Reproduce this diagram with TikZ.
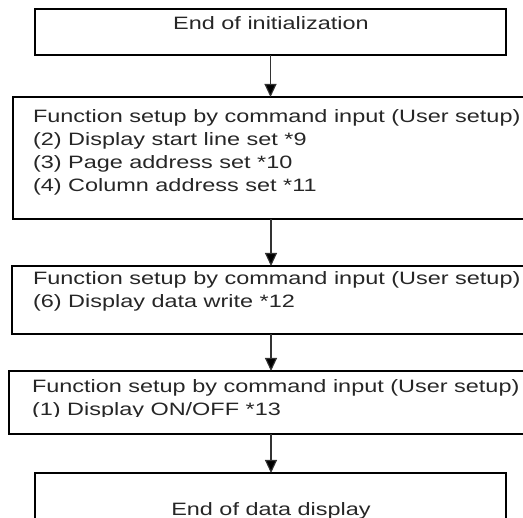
\documentclass[tikz,border=0pt]{standalone}
\usepackage{fontspec}
\setmainfont[FakeStretch=1.31]{Liberation Sans}
\usetikzlibrary{arrows.meta}
\begin{document}
\begin{tikzpicture}[x=1pt,y=-1pt,
  box/.style={draw=black, line width=1.2pt, inner sep=0pt, outer sep=0pt, anchor=north west},
  txt/.style={inner sep=0pt, outer sep=0pt, text=black!85, align=left,
    font={\fontsize{17.9}{23}\selectfont}},
  arr/.style={draw=black!80, line width=1.1pt, -{Triangle[length=13pt,width=12pt,fill=black]}}]
\useasboundingbox (0,0) rectangle (523,518);
\clip (0,0) rectangle (523,518);
% boxes
\node[box, minimum width=471pt, minimum height=46pt] (b1) at (35,9) {};
\node[box, minimum width=516pt, minimum height=122pt] (b2) at (13,97) {};
\node[box, minimum width=518pt, minimum height=68pt] (b3) at (12,266) {};
\node[box, minimum width=524pt, minimum height=63pt] (b4) at (9,371) {};
\node[box, minimum width=471pt, minimum height=70pt] (b5) at (35,473) {};
% texts (base anchor = baseline of the last line)
\node[txt, anchor=base] (t1) at (271,29.3) {End of initialization};
\node[txt, anchor=base west] (t2) at (33,191.7) {Function setup by command input (User setup)\\(2) Display start line set *9\\(3) Page address set *10\\(4) Column address set *11};
\node[txt, anchor=base west] (t3) at (33,307.3) {Function setup by command input (User setup)\\(6) Display data write *12};
\begin{scope}
\clip (0,371) rectangle (523,416.3);
\node[txt, anchor=base west] (t4) at (32,415.7) {Function setup by command input (User setup)\\(1) Display ON/OFF *13};
\end{scope}
\node[txt, anchor=base] (t5) at (271,515.5) {End of data display};
% arrows
\draw[arr] (b1.south) -- (b1.south |- b2.north);
\draw[arr] (b2.south) -- (b2.south |- b3.north);
\draw[arr] (b3.south) -- (b3.south |- b4.north);
\draw[arr] (b4.south) -- (b4.south |- b5.north);
\end{tikzpicture}
\end{document}
